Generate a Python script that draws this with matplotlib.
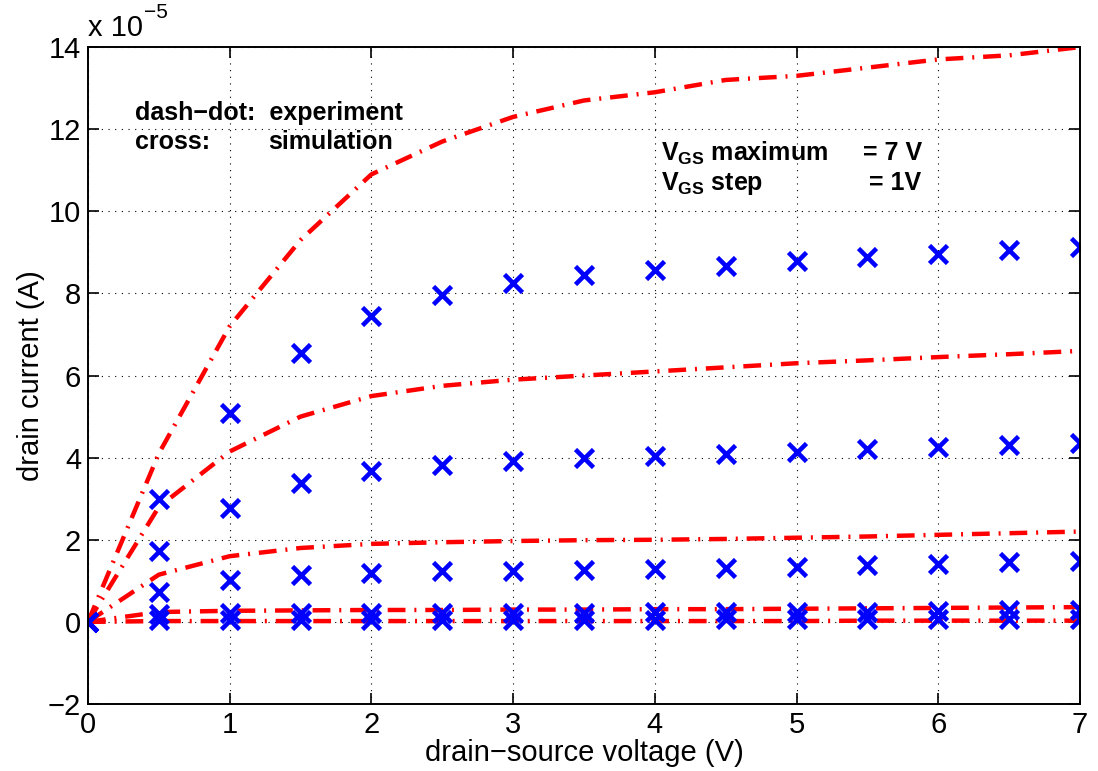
import numpy as np
import matplotlib
matplotlib.use('Agg')
import matplotlib.pyplot as plt

plt.rcParams['font.family'] = ['Liberation Sans', 'DejaVu Sans']
plt.rcParams['mathtext.fontset'] = 'custom'
plt.rcParams['mathtext.rm'] = 'Liberation Sans:bold'

# experiment (dash-dot), drain current in units of 1e-5 A
vds_exp = [0, 0.5, 1, 1.5, 2, 2.5, 3, 3.5, 4, 4.5, 5, 5.5, 6, 6.5, 7]
exp7 = [0, 4.1, 7.2, 9.3, 10.9, 11.7, 12.3, 12.7, 12.9, 13.2, 13.3, 13.5, 13.7, 13.8, 14.0]
exp6 = [0, 2.8, 4.15, 5.0, 5.5, 5.75, 5.9, 6.0, 6.1, 6.2, 6.3, 6.37, 6.45, 6.52, 6.6]
exp5 = [0, 1.15, 1.6, 1.8, 1.9, 1.94, 1.97, 1.99, 2.0, 2.02, 2.05, 2.08, 2.12, 2.16, 2.2]
exp4 = [0, 0.24, 0.27, 0.28, 0.29, 0.29, 0.3, 0.3, 0.31, 0.31, 0.32, 0.33, 0.34, 0.35, 0.36]
exp3 = [0, 0.02, 0.02, 0.02, 0.02, 0.02, 0.02, 0.02, 0.02, 0.02, 0.02, 0.03, 0.03, 0.03, 0.03]

# simulation (crosses)
vds_sim = [0, 0.5, 1, 1.5, 2, 2.5, 3, 3.5, 4, 4.5, 5, 5.5, 6, 6.5, 7]
sim7 = [0, 3.0, 5.1, 6.55, 7.45, 7.97, 8.25, 8.45, 8.58, 8.68, 8.78, 8.88, 8.97, 9.05, 9.13]
sim6 = [0, 1.72, 2.78, 3.38, 3.68, 3.83, 3.92, 3.99, 4.05, 4.09, 4.15, 4.21, 4.26, 4.31, 4.35]
sim5 = [0, 0.72, 1.03, 1.15, 1.2, 1.23, 1.25, 1.27, 1.29, 1.31, 1.33, 1.38, 1.42, 1.46, 1.48]
sim4 = [0, 0.2, 0.22, 0.22, 0.22, 0.22, 0.22, 0.22, 0.23, 0.23, 0.24, 0.25, 0.26, 0.28, 0.3]
sim3 = [0, 0.05, 0.05, 0.05, 0.05, 0.05, 0.05, 0.05, 0.05, 0.06, 0.06, 0.07, 0.07, 0.08, 0.08]

fig = plt.figure(figsize=(10.98, 7.71), dpi=100)
ax = fig.add_axes([0.0801, 0.0869, 0.9035, 0.852])

dashdot = (0, (4.0, 2.0, 0.45, 2.0))
for y in [exp7, exp6, exp5, exp4, exp3]:
    ax.plot(vds_exp, y, color='red', linestyle=dashdot, linewidth=3.2)
for y in [sim7, sim6, sim5, sim4, sim3]:
    ax.plot(vds_sim, y, linestyle='none', marker='x', color='blue',
            markersize=13, markeredgewidth=3.3)

ax.set_xlim(0, 7)
ax.set_ylim(-2, 14)
ax.set_xticks(range(0, 8))
ax.set_yticks(range(-2, 15, 2))
ax.grid(True, color='black', linestyle=(0, (1, 5)), linewidth=0.8)
ax.tick_params(direction='in', length=8, width=1.2, labelsize=21, top=True, right=True, pad=5)
for s in ax.spines.values():
    s.set_linewidth(1.4)

ax.set_xlabel('drain\u2212source voltage (V)', fontsize=21, labelpad=0)
ax.set_ylabel('drain current (A)', fontsize=21, labelpad=2)

# exponent label
fig.text(0.0801, 0.946, 'x 10', fontsize=21, ha='left', va='bottom')
fig.text(0.131, 0.972, '\u22125', fontsize=15, ha='left', va='bottom')

tb = dict(fontsize=18, fontweight='bold', va='center')
ax.text(0.33, 12.4, 'dash\u2212dot:  experiment', **tb)
ax.text(0.33, 11.69, 'cross:', **tb)
ax.text(1.27, 11.69, 'simulation', **tb)

ax.text(4.04, 11.42, r'$\mathrm{V_{GS}}$ maximum', **tb)
ax.text(5.47, 11.42, '= 7 V', **tb)
ax.text(4.04, 10.69, r'$\mathrm{V_{GS}}$ step', **tb)
ax.text(5.51, 10.69, '= 1V', **tb)

fig.savefig('out.png', dpi=100)
